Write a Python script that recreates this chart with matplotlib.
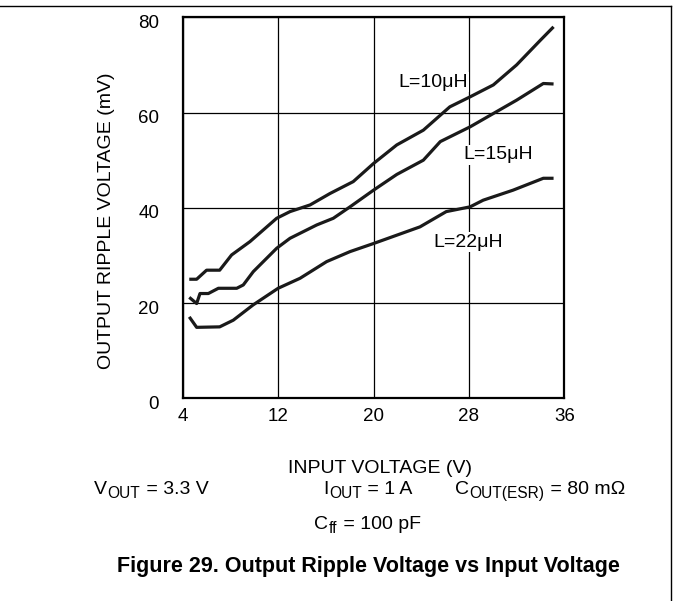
import matplotlib
matplotlib.use("Agg")
import matplotlib.pyplot as plt
import matplotlib.transforms as mtrans
from matplotlib.lines import Line2D

plt.rcParams["font.family"] = ["Liberation Sans", "DejaVu Sans"]

# ------------------------------------------------------------------ data ----
l10_x = [4.55, 5.17, 6.0, 7.1, 8.1, 9.64, 11.88, 13.0, 14.68, 16.35, 18.3,
         20.0, 21.95, 24.18, 26.4, 28.1, 30.05, 32.0, 34.0, 35.1]
l10_y = [25.0, 25.0, 26.9, 26.9, 30.1, 32.9, 37.8, 39.2, 40.6, 43.0, 45.5,
         49.3, 53.2, 56.3, 61.2, 63.3, 65.8, 70.0, 75.2, 78.0]

l15_x = [4.55, 5.17, 5.45, 6.15, 6.99, 8.53, 9.08, 9.92, 11.88, 13.0, 15.24,
         16.63, 18.03, 20.0, 21.95, 24.18, 25.6, 28.1, 32.0, 34.24, 35.1]
l15_y = [21.2, 19.9, 22.0, 22.0, 23.1, 23.1, 23.8, 26.6, 31.5, 33.6, 36.4,
         37.8, 40.2, 43.7, 47.0, 50.0, 53.9, 57.0, 62.6, 66.1, 66.0]

l22_x = [4.55, 5.17, 7.1, 8.24, 9.9, 12.0, 13.84, 16.07, 18.03, 20.0, 23.9,
         26.1, 28.1, 29.2, 31.7, 34.24, 35.1]
l22_y = [17.1, 14.9, 15.0, 16.4, 19.6, 23.1, 25.2, 28.7, 30.8, 32.5, 36.0,
         39.2, 40.2, 41.6, 43.7, 46.2, 46.2]

curve_labels = ["L=10\u03bcH", "L=15\u03bcH", "L=22\u03bcH"]
label_pos = [(22.05, 66.4), (27.5, 51.1), (25.0, 32.8)]

x_ticks = [4, 12, 20, 28, 36]
y_ticks = [0, 20, 40, 60, 80]

# test conditions: (main, subscript, rest)
conditions = [
    ("V", "OUT", " = 3.3 V"),
    ("I", "OUT", " = 1 A"),
    ("C", "OUT(ESR)", " = 80 m\u03a9"),
    ("C", "ff", " = 100 pF"),
]

# -------------------------------------------------------------- plotting ----
W, H = 673, 601
FS = 14
fig = plt.figure(figsize=(W / 100, H / 100), dpi=100)
ax = fig.add_axes([182.7 / W, 1 - 398.3 / H, 381.6 / W, 381 / H])

for xs, ys in [(l10_x, l10_y), (l15_x, l15_y), (l22_x, l22_y)]:
    ax.plot(xs, ys, color="#1a1a1a", lw=2.3, solid_capstyle="butt", zorder=3)

for text, (x, y) in zip(curve_labels, label_pos):
    ax.text(x, y, text, fontsize=FS, ha="left", va="center", zorder=4,
            bbox=dict(facecolor="white", edgecolor="none", pad=1))

ax.set_xlim(4, 36)
ax.set_ylim(0, 80)
ax.set_xticks(x_ticks)
ax.set_yticks(y_ticks)
ax.tick_params(length=0, labelsize=13.5, pad=7)
ax.tick_params(axis="y", pad=17)
ax.grid(True, color="black", lw=0.9)
ax.set_axisbelow(True)
for sp in ax.spines.values():
    sp.set_linewidth(1.6)
shift = mtrans.ScaledTranslation(0, -4 / 100, fig.dpi_scale_trans)
for t in ax.get_yticklabels():
    t.set_transform(t.get_transform() + shift)

def ftext(x, y, s, **kw):
    # x, y in reference pixels (y measured from the top)
    kw.setdefault("fontsize", FS)
    return fig.text(x / W, 1 - y / H, s, **kw)

ftext(107, 221, "OUTPUT RIPPLE VOLTAGE (mV)", rotation=90,
      ha="center", va="center")
ftext(380, 473, "INPUT VOLTAGE (V)", ha="center", va="baseline")

renderer = fig.canvas.get_renderer()

def sub_text(x, y, main, sub, rest):
    # main letter, 80% subscript a little below the baseline, then the rest
    for s, size, dy in [(main, FS, 0), (sub, FS * 0.8, 4), (rest, FS, 0)]:
        t = ftext(x, y + dy, s, fontsize=size, ha="left", va="baseline")
        x = t.get_window_extent(renderer).x1 + 0.5

starts = [(94, 494), (323, 494), (455, 494), (314, 529)]
for (x, y), (m, s, r) in zip(starts, conditions):
    sub_text(x, y, m, s, r)

ftext(368, 572, "Figure 29. Output Ripple Voltage vs Input Voltage",
      ha="center", va="baseline", fontsize=15.5, fontweight="bold")

# outer page frame (top rule and right edge)
fig.add_artist(Line2D([0, 671 / W], [1 - 6 / H, 1 - 6 / H],
                      transform=fig.transFigure, color="black", lw=1))
fig.add_artist(Line2D([671 / W, 671 / W], [1 - 6 / H, 0],
                      transform=fig.transFigure, color="black", lw=1))

fig.savefig("out.png", dpi=100)
